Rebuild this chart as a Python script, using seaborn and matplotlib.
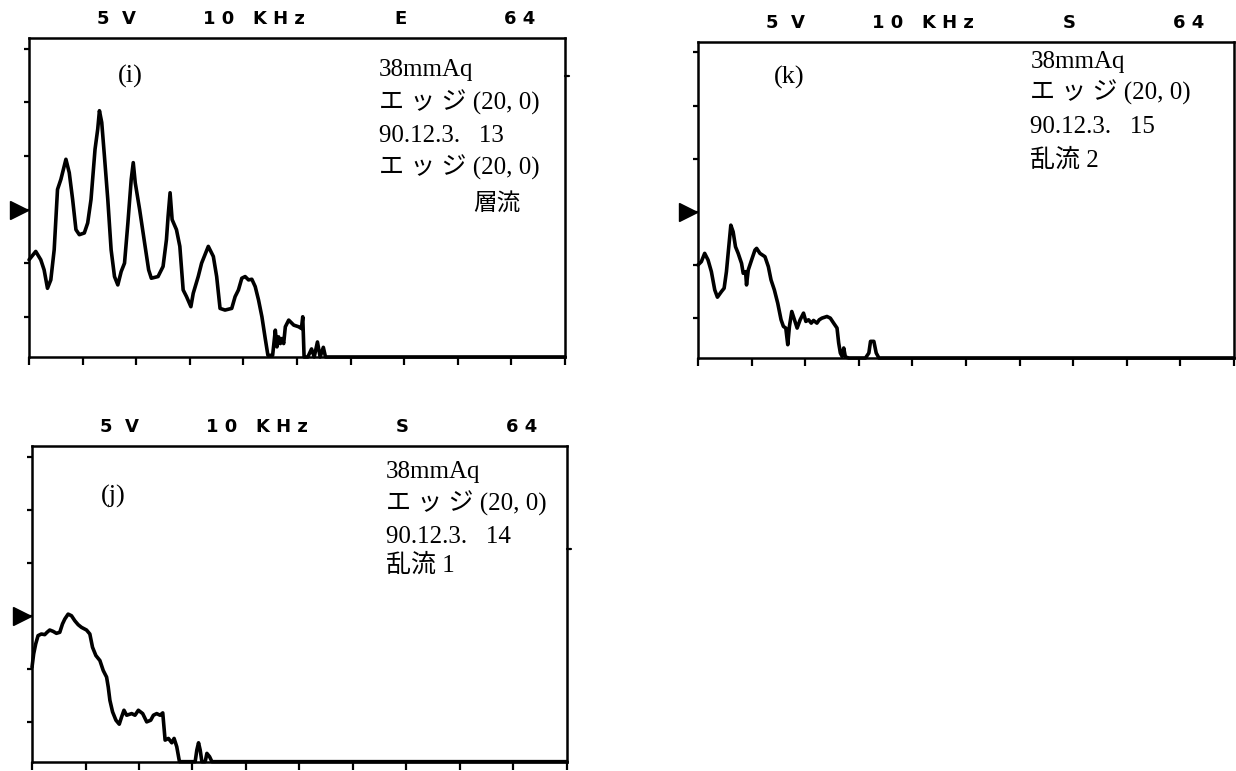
import numpy as np
import pandas as pd
import matplotlib
matplotlib.use("Agg")
import matplotlib.pyplot as plt
import matplotlib.transforms as mtransforms
import seaborn as sns

sns.set_style("white")

# ---------------- data (x in horizontal divisions, y in vertical divisions) ----------------
x_i = [0.000, 0.125, 0.219, 0.281, 0.344, 0.406, 0.469, 0.531, 0.594, 0.688, 0.750, 0.813,
       0.875, 0.938, 1.031, 1.094, 1.156, 1.231, 1.281, 1.313, 1.356, 1.406, 1.469, 1.531,
       1.594, 1.656, 1.719, 1.781, 1.844, 1.906, 1.944, 1.981, 2.063, 2.156, 2.231, 2.281,
       2.406, 2.500, 2.563, 2.594, 2.631, 2.669, 2.750, 2.813, 2.875, 2.938, 3.019, 3.063,
       3.156, 3.219, 3.344, 3.438, 3.500, 3.563, 3.656, 3.781, 3.844, 3.906, 3.969, 4.031,
       4.094, 4.156, 4.219, 4.281, 4.344, 4.406, 4.456, 4.544, 4.594, 4.625, 4.656, 4.688,
       4.719, 4.750, 4.781, 4.844, 4.938, 5.031, 5.081, 5.106, 5.131, 5.200, 5.270, 5.320,
       5.380, 5.430, 5.490, 5.530, 10.000]
y_i = [1.813, 1.969, 1.813, 1.625, 1.281, 1.438, 2.000, 3.125, 3.313, 3.688, 3.438, 2.938,
       2.375, 2.281, 2.313, 2.500, 2.938, 3.875, 4.250, 4.594, 4.375, 3.750, 2.938, 2.000,
       1.500, 1.344, 1.594, 1.750, 2.500, 3.313, 3.625, 3.250, 2.750, 2.125, 1.625, 1.469,
       1.500, 1.688, 2.188, 2.625, 3.063, 2.563, 2.375, 2.063, 1.250, 1.125, 0.938, 1.188,
       1.500, 1.750, 2.063, 1.875, 1.500, 0.906, 0.875, 0.906, 1.125, 1.250, 1.469, 1.500,
       1.438, 1.450, 1.313, 1.063, 0.750, 0.344, 0.031, 0.031, 0.500, 0.188, 0.375, 0.250,
       0.344, 0.250, 0.563, 0.688, 0.594, 0.563, 0.531, 0.750, 0.000, 0.000, 0.150, 0.000,
       0.280, 0.000, 0.180, 0.000, 0.000]

x_k = [0.000, 0.063, 0.125, 0.188, 0.250, 0.313, 0.363, 0.438, 0.488, 0.531, 0.563, 0.613,
       0.656, 0.700, 0.750, 0.813, 0.844, 0.888, 0.906, 0.938, 1.000, 1.063, 1.094, 1.156,
       1.250, 1.313, 1.363, 1.425, 1.488, 1.550, 1.594, 1.638, 1.675, 1.706, 1.750, 1.800,
       1.850, 1.906, 1.969, 2.013, 2.063, 2.113, 2.156, 2.219, 2.263, 2.313, 2.406, 2.469,
       2.531, 2.594, 2.625, 2.656, 2.688, 2.719, 2.750, 2.813, 3.125, 3.188, 3.219, 3.281,
       3.325, 3.375, 10.000]
y_k = [1.750, 1.813, 1.969, 1.844, 1.625, 1.281, 1.144, 1.250, 1.313, 1.625, 1.969, 2.500,
       2.375, 2.094, 1.969, 1.781, 1.594, 1.625, 1.375, 1.656, 1.844, 2.031, 2.063, 1.969,
       1.906, 1.719, 1.469, 1.281, 1.031, 0.719, 0.594, 0.563, 0.250, 0.594, 0.875, 0.719,
       0.563, 0.719, 0.844, 0.688, 0.719, 0.656, 0.706, 0.656, 0.719, 0.750, 0.781, 0.750,
       0.656, 0.563, 0.281, 0.094, 0.031, 0.188, 0.019, 0.000, 0.000, 0.094, 0.313, 0.313,
       0.094, 0.000, 0.000]

x_j = [0.000, 0.031, 0.069, 0.113, 0.175, 0.238, 0.281, 0.331, 0.394, 0.456, 0.519, 0.569,
       0.613, 0.675, 0.738, 0.800, 0.863, 0.925, 1.019, 1.081, 1.131, 1.194, 1.269, 1.331,
       1.394, 1.425, 1.456, 1.506, 1.569, 1.631, 1.675, 1.719, 1.769, 1.863, 1.925, 1.988,
       2.069, 2.144, 2.219, 2.269, 2.331, 2.394, 2.444, 2.488, 2.550, 2.613, 2.656, 2.706,
       2.756, 3.050, 3.081, 3.113, 3.144, 3.175, 3.238, 3.269, 3.319, 3.363, 10.000]
y_j = [1.781, 2.031, 2.219, 2.375, 2.406, 2.394, 2.438, 2.481, 2.456, 2.419, 2.438, 2.594,
       2.688, 2.781, 2.750, 2.656, 2.581, 2.531, 2.481, 2.406, 2.156, 2.000, 1.906, 1.719,
       1.594, 1.406, 1.156, 0.938, 0.781, 0.706, 0.844, 0.969, 0.875, 0.906, 0.875, 0.969,
       0.906, 0.750, 0.781, 0.875, 0.906, 0.875, 0.919, 0.406, 0.438, 0.356, 0.438, 0.281,
       0.000, 0.000, 0.219, 0.356, 0.219, 0.000, 0.000, 0.156, 0.094, 0.000, 0.000]

panel_labels = ["(i)", "(k)", "(j)"]
header_i = ["5  V", "1 0   K H z", "E", "6 4"]
header_k = ["5  V", "1 0   K H z", "S", "6 4"]
header_j = ["5  V", "1 0   K H z", "S", "6 4"]
notes_i = ["38mmAq", "エ ッ ジ (20, 0)", "90.12.3.   13", "エ ッ ジ (20, 0)"]
notes_i_extra = "層流"
notes_k = ["38mmAq", "エ ッ ジ (20, 0)", "90.12.3.   15", "乱流 2"]
notes_j = ["38mmAq", "エ ッ ジ (20, 0)", "90.12.3.   14", "乱流 1"]
x_ticks = list(range(0, 11))
y_ticks = [0.75, 1.75, 2.75, 3.75, 4.75, 5.75]
arrow_level = 2.75

# ---------------- figure ----------------
fig = plt.figure(figsize=(12.36, 7.71), dpi=100)
fig.patch.set_facecolor("white")

serif_jp = ["Liberation Serif", "Noto Sans CJK JP"]
head_font = dict(family="DejaVu Sans", weight="bold", fontsize=13, color="black")

panels = [
    dict(rect=[0.0235, 0.537, 0.4337, 0.4137], x=x_i, y=y_i, label=panel_labels[0],
         lab_pos=(0.188, 0.88), header=header_i, notes=notes_i, note_x=0.652,
         note_y=[0.899, 0.798, 0.694, 0.593], extra=notes_i_extra, right_tick=5.24),
    dict(rect=[0.5647, 0.5357, 0.4337, 0.41], x=x_k, y=y_k, label=panel_labels[1],
         lab_pos=(0.171, 0.887), header=header_k, notes=notes_k, note_x=0.620,
         note_y=[0.937, 0.839, 0.731, 0.627], extra=None, right_tick=None),
    dict(rect=[0.0259, 0.0121, 0.4328, 0.4095], x=x_j, y=y_j, label=panel_labels[2],
         lab_pos=(0.151, 0.84), header=header_j, notes=notes_j, note_x=0.661,
         note_y=[0.917, 0.819, 0.711, 0.622], extra=None, right_tick=4.0),
]
header_x = [0.163, 0.420, 0.693, 0.915]

for p in panels:
    ax = fig.add_axes(p["rect"])
    df = pd.DataFrame({"f": p["x"], "a": p["y"]})
    sns.lineplot(data=df, x="f", y="a", ax=ax, color="black", linewidth=2.6,
                 sort=False, estimator=None)
    for ln in ax.lines:
        ln.set_clip_on(False)
        ln.set_solid_joinstyle("round")
    ax.set_xlim(0, 10)
    ax.set_ylim(0, 5.95)
    ax.set_xticks(x_ticks)
    ax.set_yticks(y_ticks)
    ax.set_xticklabels([])
    ax.set_yticklabels([])
    ax.set_xlabel("")
    ax.set_ylabel("")
    ax.tick_params(axis="x", direction="out", length=6, width=1.6, color="black", bottom=True)
    ax.tick_params(axis="y", direction="out", length=3.5, width=1.6, color="black", left=True)
    for s in ax.spines.values():
        s.set_visible(True)
        s.set_color("black")
        s.set_linewidth(1.8)

    # level marker arrow left of frame
    trans = mtransforms.blended_transform_factory(ax.transAxes, ax.transData)
    ax.plot([-0.019], [arrow_level], marker=">", markersize=13, color="black",
            transform=trans, clip_on=False, linestyle="none")
    if p["right_tick"] is not None:
        ax.plot([1.0, 1.008], [p["right_tick"], p["right_tick"]], color="black",
                linewidth=1.6, transform=trans, clip_on=False)

    # header
    for hx, ht in zip(header_x, p["header"]):
        ax.text(hx, 1.06, ht, transform=ax.transAxes, ha="center", va="center", **head_font)

    # panel label
    ax.text(p["lab_pos"][0], p["lab_pos"][1], p["label"], transform=ax.transAxes,
            ha="center", va="center", fontsize=19, family=["Liberation Serif"], color="black")

    # notes
    for ny, nt in zip(p["note_y"], p["notes"]):
        ax.text(p["note_x"], ny, nt, transform=ax.transAxes, ha="left", va="center",
                fontsize=18, family=serif_jp, color="black")
    if p["extra"]:
        ax.text(0.829, 0.481, p["extra"], transform=ax.transAxes, ha="left", va="center",
                fontsize=17, family=serif_jp, color="black")

fig.savefig("out.png", dpi=100, facecolor="white")
